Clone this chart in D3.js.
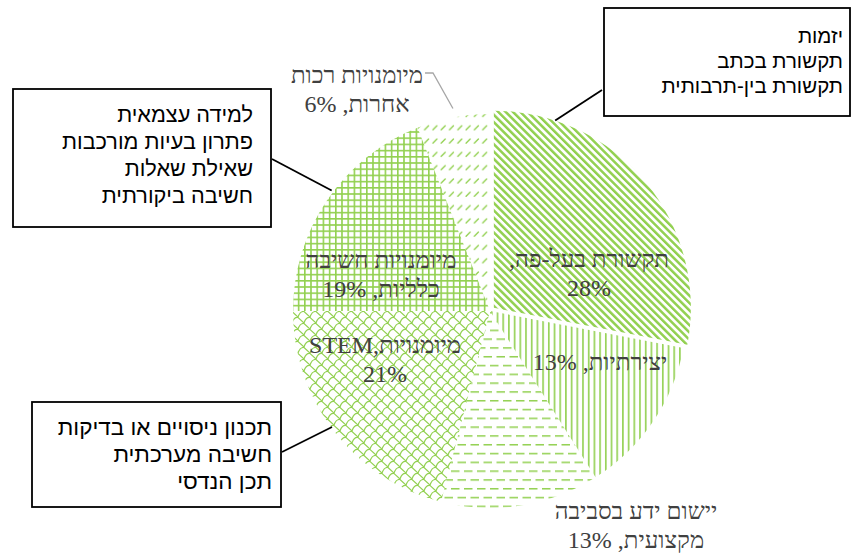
<!DOCTYPE html>
<html>
<head>
<meta charset="utf-8">
<script src="https://cdn.jsdelivr.net/npm/d3@7"></script>
<style>
  body { margin: 0; background: #fff; }
  svg { display: block; }
</style>
</head>
<body>
<svg id="chart" width="851" height="556"></svg>
<script>
// Skill categories and their share of mentions (%), clockwise from 12 o'clock
const categories = [
  "תקשורת בעל-פה",
  "יצירתיות",
  "יישום ידע בסביבה מקצועית",
  "מיומנויות STEM",
  "מיומנויות חשיבה כלליות",
  "מיומנויות רכות אחרות"
];
const values = [28, 13, 13, 21, 19, 6];

// Slice label lines; "{v}" is replaced by the slice value
const labelLines = [
  ["תקשורת בעל-פה,", "{v}"],
  ["יצירתיות, {v}"],
  ["יישום ידע בסביבה", "מקצועית, {v}"],
  ["מיומנויות,STEM", "{v}"],
  ["מיומנויות חשיבה", "כלליות, {v}"],
  ["מיומנויות רכות", "אחרות, {v}"]
];

// Call-out boxes listing the sub-skills of a slice
const calloutSlices = [0, 4, 3];
const calloutItems = [
  ["יזמות", "תקשורת בכתב", "תקשורת בין-תרבותית"],
  ["למידה עצמאית", "פתרון בעיות מורכבות", "שאילת שאלות", "חשיבה ביקורתית"],
  ["תכנון ניסויים או בדיקות", "חשיבה מערכתית", "תכן הנדסי"]
];

// ---- layout ----
const W = 851, H = 556;
const cx = 490, cy = 311, R = 197;
const explodeIdx = 0, explodeBy = 5;
const GREEN = "#92d050";
const TEXT = "#404040";
const SERIF = "'Liberation Serif', 'Times New Roman', serif";
const SANS = "'Liberation Sans', Arial, 'DejaVu Sans', sans-serif";

// label anchors: centre x, first baseline
const labelPos = [
  [589, 267], [600, 370], [636, 519], [385, 353], [381, 268], [357, 83]
];
const labelLineGap = 28.5;
const labelFont = 24;

// call-out boxes: frame, text right edge, first baseline, line gap, font size, leader anchor
const boxes = [
  { x: 604, y: 8,   w: 246, h: 108, tx: 843, base: 43,  gap: 25, fs: 20.5, frac: 0.18,  rk: 1.0,   end: [602, 90] },
  { x: 13,  y: 89,  w: 258, h: 138, tx: 253, base: 122, gap: 27, fs: 21.7, frac: 0.545, rk: 1.01,  end: [272, 159] },
  { x: 32,  y: 402, w: 249, h: 105, tx: 272, base: 435, gap: 27, fs: 22.5, frac: 0.52,  rk: 0.995, end: [282, 452] }
];

const svg = d3.select("#chart");
svg.append("rect").attr("width", W).attr("height", H).attr("fill", "#fff");

// ---- fill patterns ----
const defs = svg.append("defs");
function pattern(id, w, h, transform) {
  const p = defs.append("pattern")
    .attr("id", id)
    .attr("patternUnits", "userSpaceOnUse")
    .attr("width", w).attr("height", h);
  if (transform) p.attr("patternTransform", transform);
  return p;
}
// wide downward diagonal
pattern("pat0", 5.2, 10, "rotate(-45)")
  .append("rect").attr("width", 2.5).attr("height", 10).attr("fill", GREEN);
// vertical lines
pattern("pat1", 5.7, 10)
  .append("rect").attr("x", 1).attr("width", 1.6).attr("height", 10).attr("fill", GREEN);
// dashed horizontal
{
  const p = pattern("pat2", 13, 17.6);
  [[0, 0], [6.5, 8.8], [-6.5, 8.8]].forEach(([x, y]) =>
    p.append("rect").attr("x", x).attr("y", y + 1).attr("width", 8.5).attr("height", 1.5).attr("fill", GREEN));
}
// shingle: offset rows of skewed arches
{
  const p = pattern("pat3", 12, 12);
  p.append("path")
    .attr("d", "M0,6 Q2,0 6,0.5 L12,6 M-6,12 Q-4,6 0,6.5 L6,12 M6,12 Q8,6 12,6.5 L18,12 M6,0 Q8,-6 12,-5.5")
    .attr("fill", "none").attr("stroke", GREEN).attr("stroke-width", 1.2);
}
// small grid
{
  const p = pattern("pat4", 6.2, 6.2);
  p.append("rect").attr("width", 6.2).attr("height", 1.6).attr("fill", GREEN);
  p.append("rect").attr("width", 1.6).attr("height", 6.2).attr("fill", GREEN);
}
// dashed upward diagonal
{
  const p = pattern("pat5", 8.3, 13.3);
  p.append("line").attr("x1", 1).attr("y1", 5).attr("x2", 5).attr("y2", 1)
    .attr("stroke", GREEN).attr("stroke-width", 1.4).attr("stroke-linecap", "round");
}

// ---- pie ----
const pie = d3.pie().sort(null).value(d => d);
const arcs = pie(values);
const arc = d3.arc().innerRadius(0).outerRadius(R);

function sliceOffset(i) {
  if (i !== explodeIdx) return [0, 0];
  const a = (arcs[i].startAngle + arcs[i].endAngle) / 2;
  return [Math.sin(a) * explodeBy, -Math.cos(a) * explodeBy];
}

const g = svg.append("g").attr("transform", `translate(${cx},${cy})`);
g.selectAll("path.slice")
  .data(arcs)
  .join("path")
  .attr("class", "slice")
  .attr("d", arc)
  .attr("transform", (d, i) => { const o = sliceOffset(i); return `translate(${o[0]},${o[1]})`; })
  .attr("fill", (d, i) => `url(#pat${i})`);

function pointOnSlice(i, frac, rk) {
  const d = arcs[i];
  const a = d.startAngle + (d.endAngle - d.startAngle) * frac;
  const o = sliceOffset(i);
  return [cx + o[0] + Math.sin(a) * R * rk, cy + o[1] - Math.cos(a) * R * rk];
}

// ---- leader for the small slice ----
{
  const p = pointOnSlice(5, 0.52, 1.045);
  svg.append("polyline")
    .attr("points", [[425, 73], [433, 73], p].map(q => q.join(",")).join(" "))
    .attr("fill", "none").attr("stroke", "#a6a6a6").attr("stroke-width", 1.3);
}

// ---- slice labels ----
labelLines.forEach((lines, i) => {
  const t = svg.append("text")
    .attr("direction", "rtl")
    .attr("text-anchor", "middle")
    .attr("font-family", SERIF)
    .attr("font-size", labelFont)
    .attr("fill", TEXT);
  lines.forEach((ln, k) => {
    t.append("tspan")
      .attr("x", labelPos[i][0])
      .attr("y", labelPos[i][1] + k * labelLineGap)
      .text(ln.replace("{v}", values[i] + "%"));
  });
});

// ---- call-out boxes ----
boxes.forEach((b, j) => {
  const p = pointOnSlice(calloutSlices[j], b.frac, b.rk);
  svg.append("line")
    .attr("x1", p[0]).attr("y1", p[1]).attr("x2", b.end[0]).attr("y2", b.end[1])
    .attr("stroke", "#000").attr("stroke-width", 1.8);
  svg.append("rect")
    .attr("x", b.x).attr("y", b.y).attr("width", b.w).attr("height", b.h)
    .attr("fill", "#fff").attr("stroke", "#000").attr("stroke-width", 1.8);
  const t = svg.append("text")
    .attr("direction", "rtl")
    .attr("text-anchor", "start")
    .attr("font-family", SANS)
    .attr("font-size", b.fs)
    .attr("fill", "#000");
  calloutItems[j].forEach((ln, k) => {
    t.append("tspan")
      .attr("x", b.tx)
      .attr("y", b.base + k * b.gap)
      .text(ln);
  });
});
</script>
</body>
</html>
